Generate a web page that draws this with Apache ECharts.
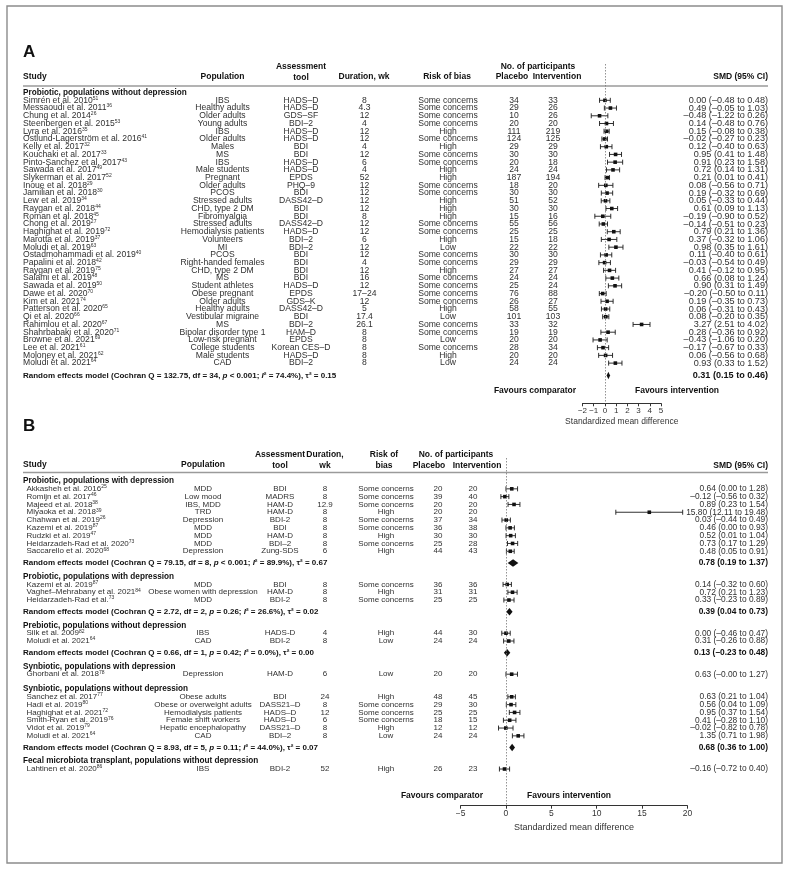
<!DOCTYPE html>
<html><head><meta charset="utf-8">
<script src="https://cdn.jsdelivr.net/npm/echarts@6/dist/echarts.min.js"></script>
<style>html,body{margin:0;padding:0;background:#fff}#c{width:791px;height:872px}</style>
</head><body><div id="c"></div>
<script>
// ---------------- Panel A data ----------------
const groupTitleA = 'Probiotic, populations without depression';
const studyA = ['Simrén et al. 2010','Messaoudi et al. 2011','Chung et al. 2014','Steenbergen et al. 2015','Lyra et al. 2016','Östlund-Lagerström et al. 2016','Kelly et al. 2017','Kouchaki et al. 2017','Pinto-Sanchez et al. 2017','Sawada et al. 2017','Slykerman et al. 2017','Inoue et al. 2018','Jamilian et al. 2018','Lew et al. 2019','Raygan et al. 2018','Roman et al. 2018','Chong et al. 2019','Haghighat et al. 2019','Marotta et al. 2019','Moludi et al. 2019','Ostadmohammadi et al. 2019','Papalini et al. 2018','Raygan et al. 2019','Salami et al. 2019','Sawada et al. 2019','Dawe et al. 2020','Kim et al. 2021','Patterson et al. 2020','Qi et al. 2020','Rahimlou et al. 2020','Shahrbabaki et al. 2020','Browne et al. 2021','Lee et al. 2021','Moloney et al. 2021','Moludi et al. 2021'];
const refA = ['51','36','26','53','35','41','32','33','43','49','52','29','30','34','44','45','27','72','37','63','40','42','75','48','50','70','74','65','66','67','71','69','61','62','64'];
const popA = ['IBS','Healthy adults','Older adults','Young adults','IBS','Older adults','Males','MS','IBS','Male students','Pregnant','Older adults','PCOS','Stressed adults','CHD, type 2 DM','Fibromyalgia','Stressed adults','Hemodialysis patients','Volunteers','MI','PCOS','Right-handed females','CHD, type 2 DM','MS','Student athletes','Obese pregnant','Older adults','Healthy adults','Vestibular migraine','MS','Bipolar disorder type 1','Low-risk pregnant','College students','Male students','CAD'];
const toolA = ['HADS–D','HADS–D','GDS–SF','BDI–2','HADS–D','HADS–D','BDI','BDI','HADS–D','HADS–D','EPDS','PHQ–9','BDI','DASS42–D','BDI','BDI','DASS42–D','HADS–D','BDI–2','BDI–2','BDI','BDI','BDI','BDI','HADS–D','EPDS','GDS–K','DASS42–D','BDI','BDI–2','HAM–D','EPDS','Korean CES–D','HADS–D','BDI–2'];
const durA = ['8','4.3','12','4','12','12','4','12','6','4','52','12','12','12','12','8','12','12','6','12','12','4','12','16','12','17–24','12','5','17.4','26.1','8','8','8','8','8'];
const riskA = ['Some concerns','Some concerns','Some concerns','Some concerns','High','Some concerns','High','Some concerns','Some concerns','High','High','Some concerns','Some concerns','High','High','High','Some concerns','Some concerns','High','Low','Some concerns','Some concerns','High','Some concerns','Some concerns','Some concerns','Some concerns','High','Low','Some concerns','Some concerns','Low','Some concerns','High','Low'];
const placeboA = [34,29,10,20,111,124,29,30,20,24,187,18,30,51,30,15,55,25,15,22,30,29,27,24,25,76,26,58,101,33,19,20,28,20,24];
const interventionA = [33,26,26,20,219,125,29,30,18,24,194,20,30,52,30,16,56,25,18,22,30,29,27,24,24,88,27,55,103,32,19,20,34,20,24];
const smdA = [0.00,0.49,-0.48,0.14,0.15,-0.02,0.12,0.95,0.91,0.72,0.21,0.08,0.19,0.05,0.61,-0.19,-0.14,0.79,0.37,0.98,0.11,-0.03,0.41,0.66,0.90,-0.20,0.19,0.06,0.08,3.27,0.28,-0.43,-0.17,0.06,0.93];
const loA = [-0.48,-0.05,-1.22,-0.48,-0.08,-0.27,-0.40,0.41,0.23,0.14,0.01,-0.56,-0.32,-0.33,0.09,-0.90,-0.51,0.21,-0.32,0.35,-0.40,-0.54,-0.12,0.08,0.31,-0.50,-0.35,-0.31,-0.20,2.51,-0.36,-1.06,-0.67,-0.56,0.33];
const hiA = [0.48,1.03,0.26,0.76,0.38,0.23,0.63,1.48,1.58,1.31,0.41,0.71,0.69,0.44,1.13,0.52,0.23,1.36,1.06,1.61,0.61,0.49,0.95,1.24,1.49,0.11,0.73,0.43,0.35,4.02,0.92,0.20,0.33,0.68,1.52];
const pooledA = {smd:0.31, lo:0.15, hi:0.46, q:'132.75', df:'34', p:'< 0.001', i2:'74.4', tau2:'0.15'};
const ticksA = {min:-2, max:5, step:1};

// ---------------- Panel B data ----------------
const groupTitleB = ['Probiotic, populations with depression','Probiotic, populations with depression','Prebiotic, populations without depression','Synbiotic, populations with depression','Synbiotic, populations without depression','Fecal microbiota transplant, populations without depression'];
const groupB = [0,0,0,0,0,0,0,0,0,1,1,1,2,2,3,4,4,4,4,4,4,5];
const studyB = ['Akkasheh et al. 2016','Romijn et al. 2017','Majeed et al. 2018','Miyaoka et al. 2018','Chahwan et al. 2019','Kazemi et al. 2019','Rudzki et al. 2019','Heidarzadeh-Rad et al. 2020','Saccarello et al. 2020','Kazemi et al. 2019','Vaghef–Mehrabany et al. 2021','Heidarzadeh-Rad et al.','Silk et al. 2009','Moludi et al. 2021','Ghorbani et al. 2018','Sanchez et al. 2017','Hadi et al. 2019','Haghighat et al. 2021','Smith-Ryan et al. 2019','Vidot et al. 2019','Moludi et al. 2021','Lahtinen et al. 2020'];
const refB = ['25','46','38','39','26','87','47','73','68','87','84','73','82','64','78','77','80','72','76','79','64','86'];
const popB = ['MDD','Low mood','IBS, MDD','TRD','Depression','MDD','MDD','MDD','Depression','MDD','Obese women with depression','MDD','IBS','CAD','Depression','Obese adults','Obese or overweight adults','Hemodialysis patients','Female shift workers','Hepatic encephalopathy','CAD','IBS'];
const toolB = ['BDI','MADRS','HAM-D','HAM-D','BDI-2','BDI','HAM-D','BDI–2','Zung-SDS','BDI','HAM-D','BDI-2','HADS-D','BDI-2','HAM-D','BDI','DASS21–D','HADS–D','HADS–D','DASS21–D','BDI–2','BDI-2'];
const durB = ['8','8','12.9','8','8','8','8','8','6','8','8','8','4','8','6','24','8','12','6','8','8','52'];
const riskB = ['Some concerns','Some concerns','Some concerns','High','Some concerns','Some concerns','High','Some concerns','High','Some concerns','High','Some concerns','High','Low','Low','High','Some concerns','Some concerns','Some concerns','High','Low','High'];
const placeboB = [20,39,20,20,37,36,30,25,44,36,31,25,44,24,20,48,29,25,18,12,24,26];
const interventionB = [20,40,20,20,34,38,30,28,43,36,31,25,30,24,20,45,30,25,15,12,24,23];
const smdB = [0.64,-0.12,0.89,15.80,0.03,0.46,0.52,0.73,0.48,0.14,0.72,0.33,0.00,0.31,0.63,0.63,0.56,0.95,0.41,-0.02,1.35,-0.16];
const loB = [0.00,-0.56,0.23,12.11,-0.44,0.00,0.01,0.17,0.05,-0.32,0.21,-0.23,-0.46,-0.26,-0.00,0.21,0.04,0.37,-0.28,-0.82,0.71,-0.72];
const hiB = [1.28,0.32,1.54,19.48,0.49,0.93,1.04,1.29,0.91,0.60,1.23,0.89,0.47,0.88,1.27,1.04,1.09,1.54,1.10,0.78,1.98,0.40];
const pooledSmdB = [0.78,0.39,0.13,null,0.68,null];
const pooledLoB = [0.19,0.04,-0.23,null,0.36,null];
const pooledHiB = [1.37,0.73,0.48,null,1.00,null];
const cochranQB = ['79.15','2.72','0.66',null,'8.93',null];
const dfB = ['8','2','1',null,'5',null];
const pB = ['< 0.001','= 0.26','= 0.42',null,'= 0.11',null];
const i2B = ['89.9','26.6','0.0',null,'44.0',null];
const tau2B = ['0.67','0.02','0.00',null,'0.07',null];
const ticksB = {min:-5, max:20, step:5};

// ---------------- helpers ----------------
const FF = '"Liberation Sans", Arial, Helvetica, sans-serif';
const TXT = '#303030';
function fmt(v){ return (v < 0 || Object.is(v,-0)) ? '–' + Math.abs(v).toFixed(2) : v.toFixed(2); }
function ci(s,l,h){ return fmt(s) + ' (' + fmt(l) + ' to ' + fmt(h) + ')'; }
function T(x, y, text, fs, o){
  const st = Object.assign({x:x, y:y, text:text, fill:TXT, font:fs + 'px ' + FF,
    align:'left', verticalAlign:'middle', textAlign:'left', textVerticalAlign:'middle'}, o || {});
  if (o && o.align){ st.textAlign = o.align; }
  return {type:'text', silent:true, style:st};
}
function nameT(x, y, name, ref, fs){
  return {type:'text', silent:true, style:{x:x, y:y, text:'{n|' + name + '}{s|' + ref + '}',
    align:'left', verticalAlign:'middle', textAlign:'left', textVerticalAlign:'middle',
    rich:{n:{fontSize:fs, fontFamily:FF, fill:TXT, color:TXT, lineHeight:9},
          s:{fontSize:5, fontFamily:FF, fill:TXT, color:TXT, lineHeight:5, verticalAlign:'top'}}}};
}
function statsT(x, y, q, df, p, i2, tau2){
  const b = {fontSize:8, fontWeight:'bold', fontFamily:FF, fill:'#111', color:'#111'};
  const bi = Object.assign({}, b, {fontStyle:'italic'});
  return {type:'text', silent:true, style:{x:x, y:y,
    text:'{b|Random effects model (Cochran Q = ' + q + ', df = ' + df + ', }{i|p}{b| ' + p + '; }{i|I}{b|² = ' + i2 + '%), τ² = ' + tau2 + '}',
    align:'left', verticalAlign:'middle', textAlign:'left', textVerticalAlign:'middle', rich:{b:b, i:bi}}};
}

// ---------------- row layout (index units) ----------------
const SUM_GAP = 1.5, HEAD_AFTER_SUM = 1.75, HEAD_AFTER_ROW = 1.9;
const rowsA = [{kind:'group', u:0, title:groupTitleA}];
studyA.forEach((s,i) => rowsA.push({kind:'study', u:i+1, i:i}));
rowsA.push({kind:'summary', u:studyA.length + 1.6, smd:pooledA.smd, lo:pooledA.lo, hi:pooledA.hi,
  stats:[pooledA.q, pooledA.df, pooledA.p, pooledA.i2, pooledA.tau2]});

const rowsB = [];
(function(){
  let u = 0;
  groupTitleB.forEach((title, g) => {
    rowsB.push({kind:'group', u:u, title:title});
    let last = u;
    studyB.forEach((s,i) => { if (groupB[i] === g){ last += 1; rowsB.push({kind:'study', u:last, i:i}); } });
    if (pooledSmdB[g] !== null){
      const su = last + SUM_GAP;
      rowsB.push({kind:'summary', u:su, smd:pooledSmdB[g], lo:pooledLoB[g], hi:pooledHiB[g],
        stats:[cochranQB[g], dfB[g], pB[g], i2B[g], tau2B[g]]});
      u = su + HEAD_AFTER_SUM;
    } else {
      u = last + HEAD_AFTER_ROW;
    }
  });
})();

const PA = {rows:rowsA, d:{study:studyA, ref:refA, pop:popA, tool:toolA, dur:durA, risk:riskA, plc:placeboA, int:interventionA, smd:smdA, lo:loA, hi:hiA},
  col:{head:23, study:23, pop:222.5, tool:301, dur:364.5, risk:448, plc:514, int:553, smd:768}, fs:8.6, fsSmd:9.1, cap:2.5, sq:3.6, dh:3.8};
const PB = {rows:rowsB, d:{study:studyB, ref:refB, pop:popB, tool:toolB, dur:durB, risk:riskB, plc:placeboB, int:interventionB, smd:smdB, lo:loB, hi:hiB},
  col:{head:23, study:26.5, pop:203, tool:280, dur:325, risk:386, plc:438, int:473, smd:768}, fs:8, fsSmd:8.4, cap:2.5, sq:3.6, dh:3.8};

function makeRender(P){
  return function(params, api){
    const r = P.rows[params.dataIndex];
    const y = api.coord([0, r.u])[1];
    const c = P.col, d = P.d, ch = [];
    if (r.kind === 'group'){
      ch.push(T(c.head, y, r.title, 8.2, {font:'bold 8.2px ' + FF, fill:'#111'}));
    } else if (r.kind === 'study'){
      const i = r.i;
      ch.push(nameT(c.study, y, d.study[i], d.ref[i], P.fs));
      ch.push(T(c.pop, y, d.pop[i], P.fs, {align:'center'}));
      ch.push(T(c.tool, y, d.tool[i], P.fs, {align:'center'}));
      ch.push(T(c.dur, y, d.dur[i], P.fs, {align:'center'}));
      ch.push(T(c.risk, y, d.risk[i], P.fs, {align:'center'}));
      ch.push(T(c.plc, y, String(d.plc[i]), P.fs, {align:'center'}));
      ch.push(T(c.int, y, String(d.int[i]), P.fs, {align:'center'}));
      ch.push(T(c.smd, y, ci(d.smd[i], d.lo[i], d.hi[i]), P.fsSmd, {align:'right'}));
      const xm = api.coord([d.smd[i], r.u])[0], xl = api.coord([d.lo[i], r.u])[0], xh = api.coord([d.hi[i], r.u])[0];
      const ls = {stroke:'#1a1a1a', lineWidth:0.9};
      ch.push({type:'line', silent:true, shape:{x1:xl, y1:y, x2:xh, y2:y}, style:ls});
      ch.push({type:'line', silent:true, shape:{x1:xl, y1:y-P.cap, x2:xl, y2:y+P.cap}, style:ls});
      ch.push({type:'line', silent:true, shape:{x1:xh, y1:y-P.cap, x2:xh, y2:y+P.cap}, style:ls});
      ch.push({type:'rect', silent:true, shape:{x:xm-P.sq/2, y:y-P.sq/2, width:P.sq, height:P.sq}, style:{fill:'#111'}});
    } else {
      ch.push(statsT(c.head, y, r.stats[0], r.stats[1], r.stats[2], r.stats[3], r.stats[4]));
      ch.push(T(c.smd, y, ci(r.smd, r.lo, r.hi), P.fsSmd, {align:'right', font:'bold ' + P.fsSmd + 'px ' + FF, fill:'#111'}));
      const xm = api.coord([r.smd, r.u])[0], xl = api.coord([r.lo, r.u])[0], xh = api.coord([r.hi, r.u])[0];
      ch.push({type:'polygon', silent:true, shape:{points:[[xl,y],[xm,y-P.dh],[xh,y],[xm,y+P.dh]]}, style:{fill:'#111'}});
    }
    return {type:'group', children:ch};
  };
}
function rowData(P){
  return P.rows.map(r => {
    if (r.kind === 'study') return [P.d.smd[r.i], r.u, P.d.lo[r.i], P.d.hi[r.i]];
    if (r.kind === 'summary') return [r.smd, r.u, r.lo, r.hi];
    return [0, r.u, 0, 0];
  });
}

// grid geometry (pixels)
const GA = {left:582.5, right:661, top:64, bottom:403.3, uMin:-3.7, uMax:40.2};
const GB = {left:460.6, right:687.4, top:458, bottom:805.7, uMin:-2.95, uMax:41.6};
function grid(G){ return {left:G.left, top:G.top, width:G.right-G.left, height:G.bottom-G.top, containLabel:false, outerBoundsMode:'none', show:false}; }
function xAxis(idx, tk, labelSize, nameGap){
  return {gridIndex:idx, type:'value', position:'bottom', min:tk.min, max:tk.max, interval:tk.step,
    axisLine:{show:true, onZero:false, lineStyle:{color:'#333', width:1}},
    axisTick:{show:true, length:3, lineStyle:{color:'#333', width:1}},
    axisLabel:{fontSize:labelSize, color:'#333', margin:3, fontFamily:FF, formatter:v => v < 0 ? '−' + Math.abs(v) : String(v)},
    splitLine:{show:false},
    name:'Standardized mean difference', nameLocation:'middle', nameGap:nameGap,
    nameTextStyle:{fontSize:labelSize + 0.5, color:'#333', fontFamily:FF}};
}
function yAxis(idx, G){ return {gridIndex:idx, type:'value', inverse:true, min:G.uMin, max:G.uMax, show:false}; }
function zeroLine(){ return {silent:true, symbol:['none','none'], label:{show:false}, animation:false,
  lineStyle:{color:'#777', type:[1.5,1.5], width:0.8}, data:[{xAxis:0}]}; }

function hdr(x, y, text, align){ return {type:'text', silent:true, style:{x:x, y:y, text:text, font:'bold 8.5px ' + FF, fill:'#111',
  align:align || 'center', textAlign:align || 'center', verticalAlign:'middle', textVerticalAlign:'middle'}}; }
function rule(y){ return {type:'line', silent:true, shape:{x1:23, y1:y, x2:768, y2:y}, style:{stroke:'#9a9a9a', lineWidth:1.3}}; }

const graphics = [
  {type:'rect', silent:true, shape:{x:7, y:6, width:775, height:857}, style:{fill:'none', stroke:'#8c8c8c', lineWidth:1.4}},
  {type:'text', silent:true, style:{x:23, y:52, text:'A', font:'bold 17px ' + FF, fill:'#111', align:'left', textAlign:'left', verticalAlign:'middle', textVerticalAlign:'middle'}},
  hdr(23, 77, 'Study', 'left'), hdr(222.5, 77, 'Population'), hdr(301, 66.7, 'Assessment'), hdr(301, 77.5, 'tool'),
  hdr(364, 77, 'Duration, wk'), hdr(447, 77, 'Risk of bias'), hdr(538, 66.7, 'No. of participants'),
  hdr(512, 77, 'Placebo'), hdr(557, 77, 'Intervention'), hdr(768, 77, 'SMD (95% CI)', 'right'),
  rule(86),
  hdr(535, 391, 'Favours comparator'), hdr(677, 391, 'Favours intervention'),
  {type:'text', silent:true, style:{x:23, y:426, text:'B', font:'bold 17px ' + FF, fill:'#111', align:'left', textAlign:'left', verticalAlign:'middle', textVerticalAlign:'middle'}},
  hdr(23, 465, 'Study', 'left'), hdr(203, 465, 'Population'), hdr(280, 455, 'Assessment'), hdr(280, 465.5, 'tool'),
  hdr(325, 455, 'Duration,'), hdr(325, 465.5, 'wk'), hdr(384, 455, 'Risk of'), hdr(384, 465.5, 'bias'),
  hdr(456, 455, 'No. of participants'), hdr(429, 465.5, 'Placebo'), hdr(477, 465.5, 'Intervention'), hdr(768, 465.5, 'SMD (95% CI)', 'right'),
  rule(472.5),
  hdr(442, 795.7, 'Favours comparator'), hdr(569, 795.7, 'Favours intervention')
];

const chart = echarts.init(document.getElementById('c'), null, {renderer:'canvas', width:791, height:872});
chart.setOption({
  animation:false,
  backgroundColor:'#fff',
  textStyle:{fontFamily:FF},
  grid:[grid(GA), grid(GB)],
  xAxis:[xAxis(0, ticksA, 8, 14), xAxis(1, ticksB, 8.5, 17)],
  yAxis:[yAxis(0, GA), yAxis(1, GB)],
  graphic:{elements:graphics},
  series:[
    {type:'custom', xAxisIndex:0, yAxisIndex:0, clip:false, renderItem:makeRender(PA), data:rowData(PA),
     encode:{x:[0,2,3], y:1}, markLine:zeroLine(), z:3},
    {type:'custom', xAxisIndex:1, yAxisIndex:1, clip:false, renderItem:makeRender(PB), data:rowData(PB),
     encode:{x:[0,2,3], y:1}, markLine:zeroLine(), z:3}
  ]
});
</script>
</body></html>
